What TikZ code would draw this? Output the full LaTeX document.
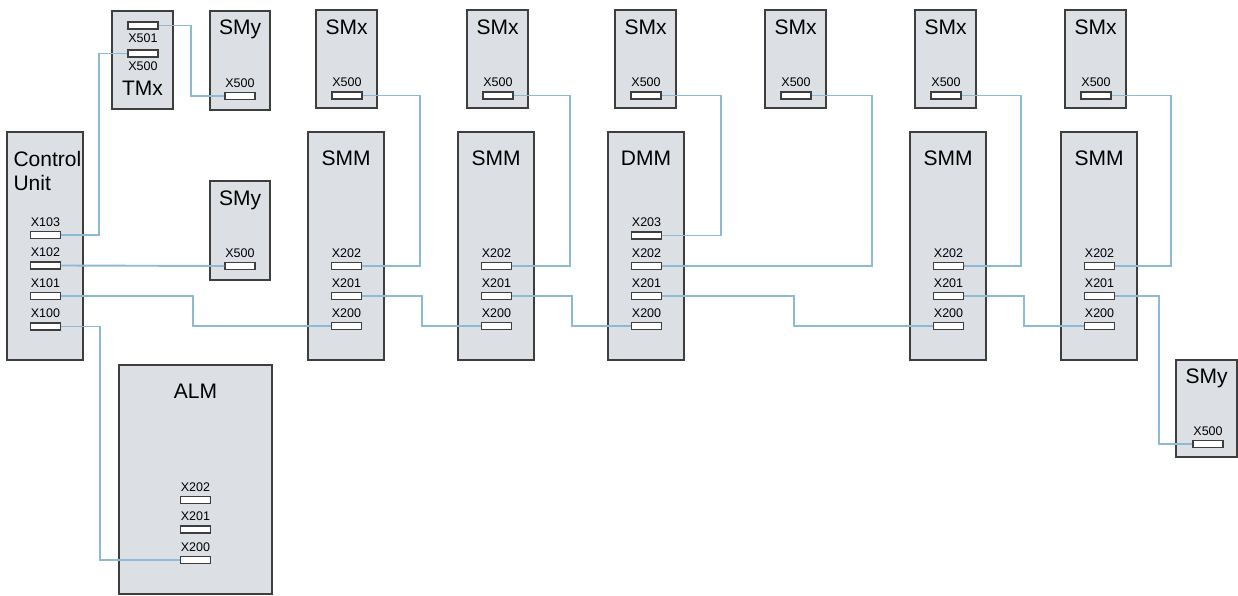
\documentclass[tikz,border=0pt]{standalone}
\usepackage{fontspec}
\setmainfont{Liberation Sans}
\definecolor{modfill}{RGB}{220,224,228}
\definecolor{modline}{RGB}{62,62,62}
\definecolor{wire}{RGB}{140,185,212}
\begin{document}
\begin{tikzpicture}[x=1pt,y=-1pt,
    module/.style={draw=modline, line width=1.7pt, fill=modfill, inner sep=0pt},
    port/.style={draw=modline, line width=1.5pt, fill=white, minimum width=30pt, minimum height=7pt, inner sep=0pt},
    plabel/.style={font=\fontsize{12.5}{14}\selectfont, inner sep=1pt},
    title/.style={font=\fontsize{21}{24}\selectfont, anchor=base},
    cable/.style={draw=wire, line width=1.9pt}]
\useasboundingbox (0,0) rectangle (1238,596);
\node[module, minimum width=76pt, minimum height=228pt] (cu) at (45,246) {};
\node[title, anchor=base west] (cu-t1) at (10,167) {Control};
\node[title, anchor=base west] (cu-t2) at (10,190) {Unit};
\foreach \p/\y in {103/235, 102/265.5, 101/296, 100/326.5}
    \node[port, label={[plabel, label distance=3pt]above:X\p}] (cu-\p) at (45.5,\y) {};
\node[module, minimum width=61pt, minimum height=98pt] (tmx) at (142.5,60) {};
\node[title] (tmx-t) at (142.5,96) {TMx};
\node[port, label={[plabel, label distance=3pt]below:X501}] (tmx-501) at (143,25.5) {};
\node[port, label={[plabel, label distance=3pt]below:X500}] (tmx-500) at (143,53.5) {};
\foreach \k/\y in {a/11, b/181}
   {\node[module, minimum width=60pt, minimum height=99pt] (smy\k) at (240,\y+49.5) {};
    \node[title] (smy\k-t) at (240,\y+24) {SMy};
    \node[port, label={[plabel, label distance=3pt]above:X500}] (smy\k-500) at (240,\y+85) {};}
\node[module, minimum width=61pt, minimum height=97pt] (smyc) at (1206.5,408.5) {};
\node[title] (smyc-t) at (1206.5,383) {SMy};
\node[port, label={[plabel, label distance=3pt]above:X500}] (smyc-500) at (1208,444) {};
\node[module, minimum width=153pt, minimum height=229pt] (alm) at (195.5,479.5) {};
\node[title] (alm-t) at (195.5,398) {ALM};
\foreach \p/\y in {202/500, 201/529.5, 200/560}
    \node[port, label={[plabel, label distance=3pt]above:X\p}] (alm-\p) at (195.5,\y) {};
\foreach \k/\x in {1/316, 2/467, 3/615, 4/765, 5/915, 6/1065}
   {\node[module, minimum width=61pt, minimum height=98pt] (smx\k) at (\x+30.5,59) {};
    \node[title] (smx\k-t) at (\x+30.5,35) {SMx};
    \node[port, label={[plabel, label distance=3pt]above:X500}] (smx\k-500) at (\x+31,95.5) {};}
\foreach \k/\x/\t in {1/308/SMM, 2/458/SMM, 3/608/DMM, 4/910/SMM, 5/1061/SMM}
   {\node[module, minimum width=76pt, minimum height=228pt] (mm\k) at (\x+38,246) {};
    \node[title] (mm\k-t) at (\x+38,165) {\t};
    \foreach \p/\y in {202/266, 201/296, 200/326}
        \node[port, label={[plabel, label distance=3pt]above:X\p}] (mm\k-\p) at (\x+38.5,\y) {};}
\node[port, label={[plabel, label distance=3pt]above:X203}] (mm3-203) at (646.5,235.5) {};
\draw[cable] (cu-103.east) -- ++(38,0) |- (tmx-500.west);
\draw[cable] (tmx-501.east) -- ++(32,0) |- (smya-500.west);
\draw[cable] (cu-102.east) -- (smyb-500.west);
\draw[cable] (cu-101.east) -- ++(132,0) |- (mm1-200.west);
\draw[cable] (cu-100.east) -- ++(39,0) |- (alm-200.west);
\foreach \s/\d/\m in {1/57/mm1-202, 2/56/mm2-202, 3/59/mm3-203, 4/60/mm3-202, 5/59/mm4-202, 6/59/mm5-202}
    \draw[cable] (smx\s-500.east) -- ++(\d,0) |- (\m.east);
\foreach \a/\d/\b in {mm1/60/mm2-200, mm2/60/mm3-200, mm3/132/mm4-200, mm4/60/mm5-200, mm5/44/smyc-500}
    \draw[cable] (\a-201.east) -- ++(\d,0) |- (\b.west);
\end{tikzpicture}
\end{document}
